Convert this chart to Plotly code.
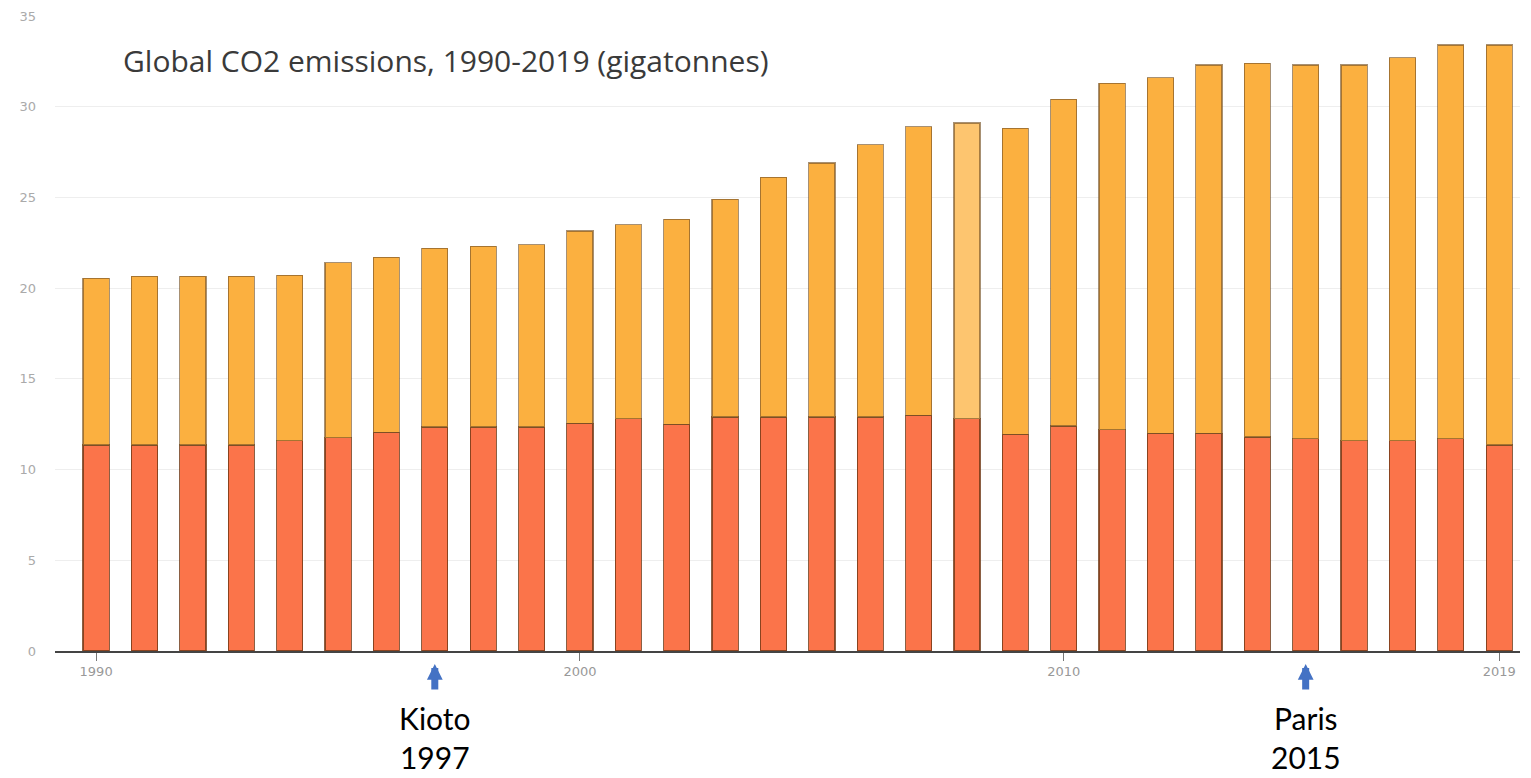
import plotly.graph_objects as go

years = list(range(1990, 2020))
lower = [11.35, 11.35, 11.35, 11.35, 11.6, 11.75, 12.05, 12.35, 12.35, 12.35,
         12.55, 12.8, 12.5, 12.9, 12.9, 12.9, 12.9, 13.0, 12.8, 11.95,
         12.4, 12.2, 12.0, 12.0, 11.8, 11.7, 11.6, 11.6, 11.7, 11.35]
upper = [9.2, 9.3, 9.3, 9.3, 9.1, 9.65, 9.65, 9.85, 9.95, 10.05,
         10.6, 10.7, 11.3, 12.0, 13.2, 14.0, 15.0, 15.9, 16.3, 16.85,
         18.0, 19.1, 19.6, 20.3, 20.6, 20.6, 20.7, 21.1, 21.7, 22.05]
highlight_year = 2008
xtick_vals = [1990, 2000, 2010, 2019]
ytick_vals = [0, 5, 10, 15, 20, 25, 30, 35]
title_text = "Global CO2 emissions, 1990-2019 (gigatonnes)"
events = [(1997, "Kioto<br>1997"), (2015, "Paris<br>2015")]

upper_colors = ["#fdc56f" if y == highlight_year else "#fbb040" for y in years]

fig = go.Figure()
fig.add_trace(go.Bar(x=years, y=lower, marker=dict(color="#fb744a",
                     line=dict(color="rgba(110,55,20,0.8)", width=1.2)), showlegend=False))
fig.add_trace(go.Bar(x=years, y=upper, marker=dict(color=upper_colors,
                     line=dict(color="rgba(120,85,40,0.65)", width=1.2)), showlegend=False))

PX_L, PX_R, PX_T, PX_B = 55, 1520, 16, 651
ph = PX_B - PX_T

fig.update_layout(
    barmode="stack", bargap=0.46,
    width=1531, height=778,
    margin=dict(l=PX_L, r=1531 - PX_R, t=PX_T, b=778 - PX_B, autoexpand=False),
    plot_bgcolor="white", paper_bgcolor="white",
    font=dict(family="DejaVu Sans", color="#999999", size=12),
    xaxis=dict(range=[1989.15, 2019.43], tickvals=xtick_vals, ticks="outside",
               ticklen=8, tickcolor="#777777", showgrid=False, showline=True,
               linecolor="#444444", linewidth=1.5,
               tickfont=dict(family="DejaVu Sans", size=13, color="#999999"),
               zeroline=False),
    yaxis=dict(range=[0, 35], tickvals=ytick_vals, showgrid=True, gridcolor="#eeeeee",
               gridwidth=1, zeroline=False, showline=False, ticklabelstandoff=18,
               tickfont=dict(family="DejaVu Sans", size=13, color="#aaaaaa")),
)

fig.add_annotation(text=title_text, xref="paper", yref="paper",
                   x=(121 - PX_L) / (PX_R - PX_L), y=(PX_B - 60) / ph,
                   xanchor="left", yanchor="middle", showarrow=False,
                   font=dict(family="Open Sans", size=30, color="#3a3a3a"))

for yr, label in events:
    fig.add_annotation(x=yr, y=(PX_B - 664) / ph, xref="x", yref="paper",
                       showarrow=True, ax=0, ay=27, axref="pixel", ayref="pixel",
                       arrowhead=2, arrowsize=0.45, arrowwidth=7, arrowcolor="#4472c4", text="")
    fig.add_annotation(x=yr, y=(PX_B - 737) / ph, xref="x", yref="paper",
                       text=label, showarrow=False, xanchor="center", yanchor="middle",
                       font=dict(family="Lato", size=30, color="#000000"))

fig.write_html("out.html")
